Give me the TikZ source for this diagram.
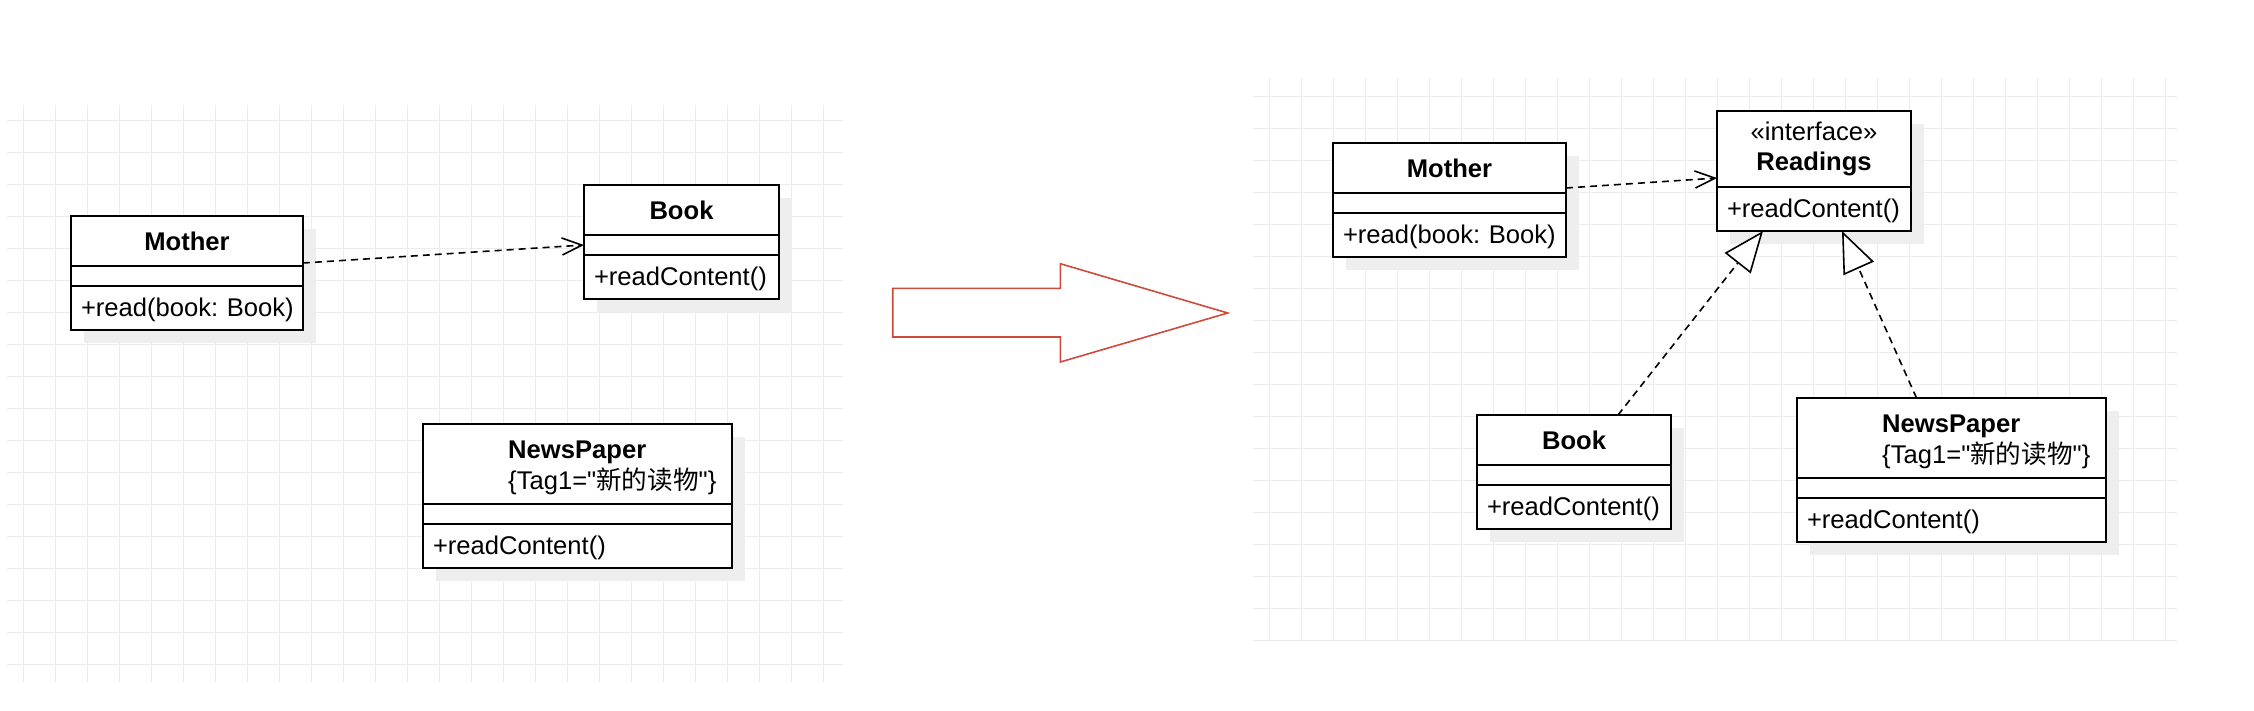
\documentclass[tikz,border=0pt]{standalone}
\usepackage{fontspec}
\setmainfont{Liberation Sans}
\newfontfamily\cjk{Noto Sans CJK SC}
\usetikzlibrary{arrows.meta,positioning,calc,shadows}
\definecolor{gridgray}{RGB}{236,236,236}
\definecolor{shadowgray}{RGB}{238,238,238}
\definecolor{arrowred}{RGB}{208,74,60}
\newcommand\umlfont{\fontsize{25.6}{29.5}\selectfont}
\frenchspacing

\begin{document}
\begin{tikzpicture}[x=1pt,y=-1pt,font=\umlfont]
    \tikzset{
      umlpart/.style={rectangle,draw=black,line width=2.1pt,fill=white,outer sep=0pt,inner sep=0pt,
        drop shadow={shadow xshift=13pt,shadow yshift=-13pt,fill=shadowgray,opacity=1,draw=none}},
      classhead/.style={umlpart,minimum height=50pt,font=\umlfont\bfseries,text height=19pt,text depth=0pt},
      classattr/.style={umlpart,minimum height=20pt},
      classops/.style={umlpart,minimum height=44pt,inner xsep=10pt,align=left,text height=18pt,text depth=2pt},
      headtext/.style={inner sep=0pt},
      gridline/.style={gridgray,line width=1pt},
      depend/.style={dash pattern=on 7pt off 5pt,line width=1.6pt,-{Straight Barb[length=20pt,width=17pt]}},
      realize/.style={dash pattern=on 7pt off 5pt,line width=1.6pt,-{Triangle[open,fill=white,length=41pt,width=33pt]}},
      bigarrow/.style={draw=arrowred,line width=1.6pt,line join=miter}
    }
    \useasboundingbox (0,0) rectangle (2254,710);

    \foreach \k in {0,...,25} \draw[gridline] (23.3+32*\k,105) -- (23.3+32*\k,683);
    \foreach \k in {0,...,17} \draw[gridline] (7,120.3+32*\k) -- (843,120.3+32*\k);
    \foreach \k in {0,...,28} \draw[gridline] (1269.3+32*\k,78) -- (1269.3+32*\k,641);
    \foreach \k in {0,...,17} \draw[gridline] (1253,96+32*\k) -- (2177,96+32*\k);

    \node[classhead,minimum width=232pt,anchor=north west] (motherL) at (71,216) {Mother};
    \node[classattr,minimum width=232pt,below=0pt of motherL] (motherLattr) {};
    \node[classops,text width=212pt,below=0pt of motherLattr] (motherLops) {\mbox{+read(book: Book)}};

    \node[classhead,minimum width=195pt,anchor=north west] (bookL) at (584,185) {Book};
    \node[classattr,minimum width=195pt,below=0pt of bookL] (bookLattr) {};
    \node[classops,text width=175pt,below=0pt of bookLattr] (bookLops) {+readContent()};

    \node[classhead,minimum width=309pt,minimum height=80pt,anchor=north west] (newsL) at (423,424) {};
    \node[headtext,font=\umlfont\bfseries,anchor=base west] (newsLname) at ($(newsL.north west)+(85,34.5)$) {NewsPaper};
    \node[headtext,anchor=base west] (newsLtag) at ($(newsL.north west)+(85,65)$) {\{Tag1=\textquotedbl{\cjk 新的读物}\textquotedbl\}};
    \node[classattr,minimum width=309pt,below=0pt of newsL] (newsLattr) {};
    \node[classops,text width=289pt,below=0pt of newsLattr] (newsLops) {+readContent()};

    \coordinate (motherLout) at ($(motherL.south east)+(0,-3)$);
    \draw[depend] (motherLout) -- (bookLattr.west);

    \draw[bigarrow] (892.7,288.3) -- (1060.3,288.3) -- (1060.3,263.7) -- (1227.7,313) -- (1060.3,362) -- (1060.3,337) -- (892.7,337) -- cycle;

    \node[classhead,minimum width=233pt,anchor=north west] (motherR) at (1333,143) {Mother};
    \node[classattr,minimum width=233pt,below=0pt of motherR] (motherRattr) {};
    \node[classops,text width=213pt,below=0pt of motherRattr] (motherRops) {\mbox{+read(book: Book)}};

    \node[classhead,minimum width=194pt,minimum height=76pt,anchor=north west] (readings) at (1717,111) {};
    \node[headtext,anchor=base] (readingsstereo) at ($(readings.north)+(0,29.7)$) {«interface»};
    \node[headtext,font=\umlfont\bfseries,anchor=base] (readingsname) at ($(readings.north)+(0,59.3)$) {Readings};
    \node[classops,text width=174pt,below=0pt of readings] (readingsops) {+readContent()};

    \node[classhead,minimum width=194pt,anchor=north west] (bookR) at (1477,415) {Book};
    \node[classattr,minimum width=194pt,below=0pt of bookR] (bookRattr) {};
    \node[classops,text width=174pt,below=0pt of bookRattr] (bookRops) {+readContent()};

    \node[classhead,minimum width=309pt,minimum height=80pt,anchor=north west] (newsR) at (1797,398) {};
    \node[headtext,font=\umlfont\bfseries,anchor=base west] (newsRname) at ($(newsR.north west)+(85,34.5)$) {NewsPaper};
    \node[headtext,anchor=base west] (newsRtag) at ($(newsR.north west)+(85,65)$) {\{Tag1=\textquotedbl{\cjk 新的读物}\textquotedbl\}};
    \node[classattr,minimum width=309pt,below=0pt of newsR] (newsRattr) {};
    \node[classops,text width=289pt,below=0pt of newsRattr] (newsRops) {+readContent()};

    \coordinate (motherRout) at ($(motherR.south east)+(0,-5)$);
    \coordinate (readingsin) at ($(readings.south west)+(0,-9)$);
    \draw[depend] (motherRout) -- (readingsin);

    \coordinate (bookRup) at ($(bookR.north)+(44,0)$);
    \coordinate (readingsleft) at ($(readingsops.south)+(-51,0)$);
    \draw[realize] (bookRup) -- (readingsleft);
    \coordinate (newsRup) at ($(newsR.north)+(-35,0)$);
    \coordinate (readingsright) at ($(readingsops.south)+(28,0)$);
    \draw[realize] (newsRup) -- (readingsright);
\end{tikzpicture}
\end{document}
